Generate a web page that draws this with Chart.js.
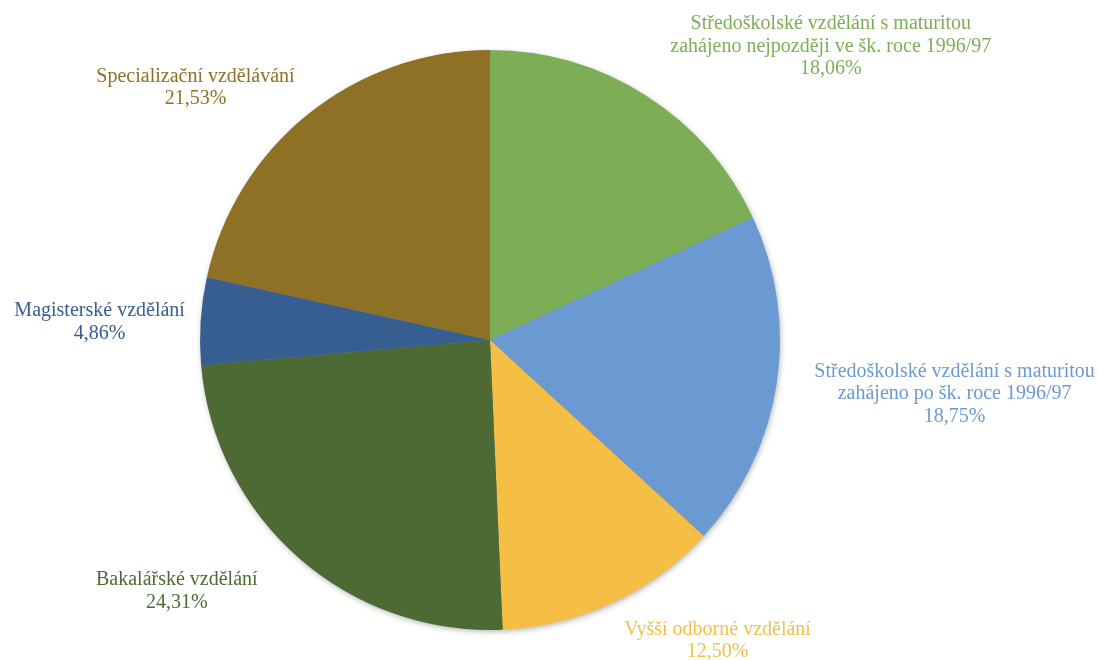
<!DOCTYPE html>
<html>
<head>
<meta charset="utf-8">
<script src="https://cdn.jsdelivr.net/npm/chart.js@4/dist/chart.umd.min.js"></script>
<style>
  html, body { margin: 0; padding: 0; background: #fff; }
  #wrap { width: 1099px; height: 660px; }
</style>
</head>
<body>
<div id="wrap"><canvas id="pieChart"></canvas></div>
<script>
// share of each education level
var categories = [
    ["Středoškolské vzdělání s maturitou", "zahájeno nejpozději ve šk. roce 1996/97"],
    ["Středoškolské vzdělání s maturitou", "zahájeno po šk. roce 1996/97"],
    ["Vyšší odborné vzdělání"],
    ["Bakalářské vzdělání"],
    ["Magisterské vzdělání"],
    ["Specializační vzdělávání"]
];
var shares = [18.06, 18.75, 12.50, 24.31, 4.86, 21.53];
var sliceColors = ["#7dad55", "#6a9ad1", "#f5bf45", "#4d6a35", "#365e91", "#8f7125"];

// where each label block sits, relative to the slice's outer edge midpoint
var labelShift = [[185, -49], [178, 10], [105, 38], [-122, 33], [-101, 1], [-113, -26]];

function fmtPct(v) {
    return v.toFixed(2).replace('.', ',') + '%';
}

// soft shadow behind the whole pie
var pieShadow = {
    id: 'pieShadow',
    beforeDatasetsDraw: function(chart) {
        var arc = chart.getDatasetMeta(0).data[0];
        if (!arc) return;
        var ctx = chart.ctx;
        ctx.save();
        ctx.shadowColor = 'rgba(0,0,0,0.35)';
        ctx.shadowBlur = 6;
        ctx.shadowOffsetX = 1;
        ctx.shadowOffsetY = 2;
        ctx.fillStyle = '#888';
        ctx.beginPath();
        ctx.arc(arc.x, arc.y, arc.outerRadius - 1, 0, Math.PI * 2);
        ctx.fill();
        ctx.restore();
    }
};

// category name + percentage next to each slice
var sliceLabels = {
    id: 'sliceLabels',
    afterDatasetsDraw: function(chart) {
        var ctx = chart.ctx;
        var meta = chart.getDatasetMeta(0);
        ctx.save();
        ctx.font = '20px "Liberation Serif", "Times New Roman", serif';
        ctx.textAlign = 'center';
        ctx.textBaseline = 'middle';
        var lineH = 22.5;
        meta.data.forEach(function(arc, i) {
            var mid = (arc.startAngle + arc.endAngle) / 2;
            var ex = arc.x + Math.cos(mid) * arc.outerRadius;
            var ey = arc.y + Math.sin(mid) * arc.outerRadius;
            var lines = categories[i].concat([fmtPct(shares[i])]);
            var cx = ex + labelShift[i][0];
            var cy = ey + labelShift[i][1] - (lines.length - 1) * lineH / 2;
            ctx.fillStyle = sliceColors[i];
            lines.forEach(function(t, k) {
                ctx.fillText(t, cx, cy + k * lineH);
            });
        });
        ctx.restore();
    }
};

var ctx = document.getElementById('pieChart');
new Chart(ctx, {
    type: 'pie',
    data: {
        labels: categories.map(function(c) { return c.join(' '); }),
        datasets: [{
            data: shares,
            backgroundColor: sliceColors,
            borderWidth: 0
        }]
    },
    options: {
        responsive: true,
        maintainAspectRatio: false,
        animation: false,
        layout: { padding: { left: 200, right: 319, top: 50, bottom: 30 } },
        plugins: {
            legend: { display: false },
            tooltip: { enabled: false }
        }
    },
    plugins: [pieShadow, sliceLabels]
});
</script>
</body>
</html>
